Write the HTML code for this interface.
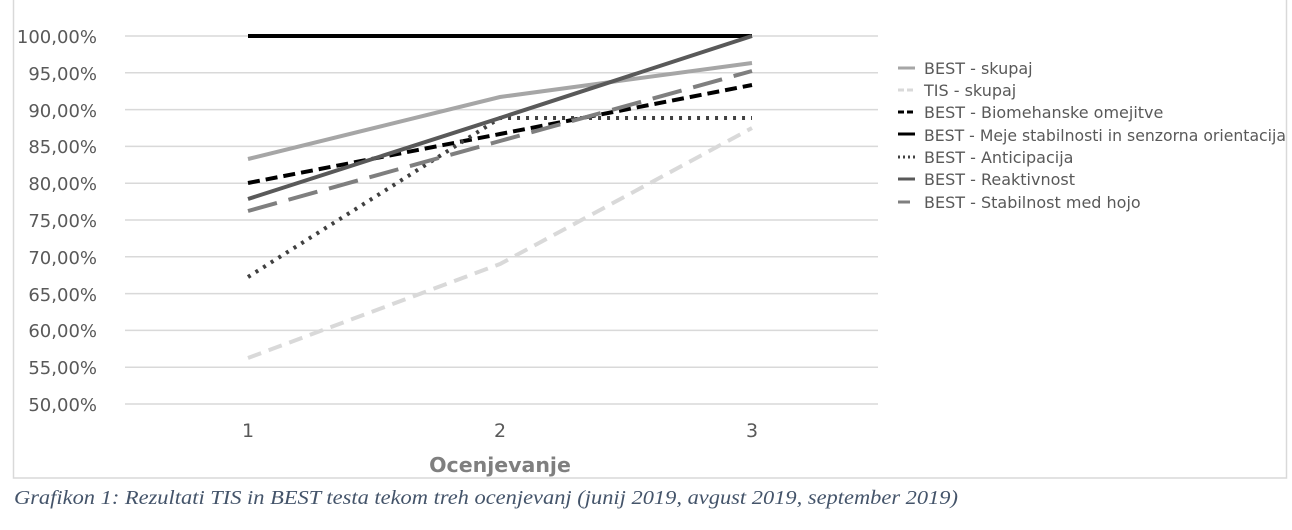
<!DOCTYPE html><html><head><style>body{margin:0;background:#fff}</style></head><body>
<svg width="1292" height="530" xmlns="http://www.w3.org/2000/svg" style="display:block">
<rect x="13.5" y="-2" width="1273" height="480" fill="#fff" stroke="#d9d9d9" stroke-width="1.5"/>
<g stroke="#d9d9d9" stroke-width="1.5">
<line x1="125" x2="878" y1="36" y2="36"/><line x1="125" x2="878" y1="72.8" y2="72.8"/><line x1="125" x2="878" y1="109.6" y2="109.6"/><line x1="125" x2="878" y1="146.4" y2="146.4"/><line x1="125" x2="878" y1="183.2" y2="183.2"/><line x1="125" x2="878" y1="220" y2="220"/><line x1="125" x2="878" y1="256.8" y2="256.8"/><line x1="125" x2="878" y1="293.6" y2="293.6"/><line x1="125" x2="878" y1="330.4" y2="330.4"/><line x1="125" x2="878" y1="367.2" y2="367.2"/><line x1="125" x2="878" y1="404" y2="404"/>
</g>
<g font-family="DejaVu Sans, Liberation Sans, sans-serif" font-size="18" fill="#595959" text-anchor="end">
<text x="97" y="43">100,00%</text><text x="97" y="80">95,00%</text><text x="97" y="117">90,00%</text><text x="97" y="153">85,00%</text><text x="97" y="190">80,00%</text><text x="97" y="227">75,00%</text><text x="97" y="264">70,00%</text><text x="97" y="301">65,00%</text><text x="97" y="337">60,00%</text><text x="97" y="374">55,00%</text><text x="97" y="411">50,00%</text>
</g>
<g font-family="DejaVu Sans, Liberation Sans, sans-serif" font-size="19" fill="#595959" text-anchor="middle">
<text x="248" y="437">1</text><text x="500" y="437">2</text><text x="752" y="437">3</text>
<text x="500" y="472" font-size="20.5" font-weight="bold" fill="#7f7f7f">Ocenjevanje</text>
</g>
<g fill="none" stroke-width="4">
<polyline points="248,159 500,97 752,63" stroke="#a6a6a6"/>
<polyline points="248,358 500,264 752,128" stroke="#d9d9d9" stroke-dasharray="14,8"/>
<polyline points="248,183 500,134 752,85" stroke="#000" stroke-dasharray="12,6"/>
<polyline points="248,36 752,36" stroke="#000"/>
<polyline points="248,277 500,118 752,118" stroke="#404040" stroke-dasharray="3,6"/>
<polyline points="248,199 500,118 752,36" stroke="#595959"/>
<polyline points="248,211 500,141 752,71" stroke="#7f7f7f" stroke-dasharray="30,12"/>
</g>
<g stroke-width="3" fill="none">
<line x1="898" x2="915" y1="68" y2="68" stroke="#a6a6a6"/>
<line x1="898" x2="915" y1="90" y2="90" stroke="#d9d9d9" stroke-dasharray="6,3"/>
<line x1="898" x2="915" y1="112" y2="112" stroke="#000" stroke-dasharray="6,3"/>
<line x1="898" x2="915" y1="134" y2="134" stroke="#000"/>
<line x1="898" x2="915" y1="157" y2="157" stroke="#404040" stroke-dasharray="2,3"/>
<line x1="898" x2="915" y1="179" y2="179" stroke="#595959"/>
<line x1="898" x2="910" y1="202" y2="202" stroke="#7f7f7f"/>
</g>
<g font-family="DejaVu Sans, Liberation Sans, sans-serif" font-size="16" fill="#595959">
<text x="924" y="74">BEST - skupaj</text><text x="924" y="96">TIS - skupaj</text><text x="924" y="118">BEST - Biomehanske omejitve</text><text x="924" y="141" textLength="362" lengthAdjust="spacingAndGlyphs">BEST - Meje stabilnosti in senzorna orientacija</text><text x="924" y="163">BEST - Anticipacija</text><text x="924" y="185">BEST - Reaktivnost</text><text x="924" y="208">BEST - Stabilnost med hojo</text>
</g>
<text x="14" y="504" font-family="Liberation Serif, serif" font-style="italic" font-size="20" fill="#44546a" textLength="944" lengthAdjust="spacingAndGlyphs">Grafikon 1: Rezultati TIS in BEST testa tekom treh ocenjevanj (junij 2019, avgust 2019, september 2019)</text>
</svg>
</body></html>
